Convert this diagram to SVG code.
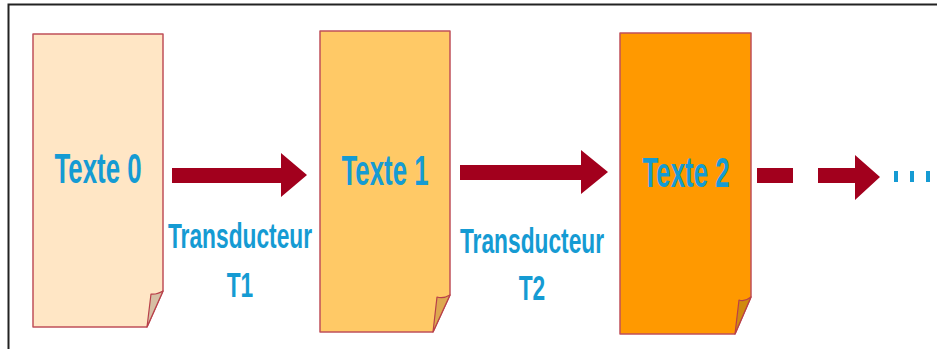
<svg xmlns="http://www.w3.org/2000/svg" width="937" height="349" viewBox="0 0 937 349">
<style>
.doc{stroke:#C0505A;stroke-width:1.5;stroke-linejoin:round}
.flap{stroke:#B8404A;stroke-width:1.2;stroke-linejoin:round}
.lbl{font-family:"Liberation Sans",Arial,sans-serif;font-weight:bold;fill:#159BD3;text-anchor:middle}
.arr{fill:#A2001D}
</style>
<rect width="937" height="349" fill="#fff"/>
<path d="M8.5 349 V4.5 H937" fill="none" stroke="#222" stroke-width="2"/>
<g id="doc0">
<path class="doc" d="M33 34 H163 V291 L147 327 H33 Z" fill="#FFE6C5"/>
<path class="flap" d="M147 327 L151 294 Q156 295 163 291 Z" fill="#D6BFA4"/>
<text class="lbl" transform="translate(98 183) scale(0.6 1)" font-size="43">Texte 0</text>
</g>
<g id="doc1">
<path class="doc" d="M320 31 H450 V295 L433 332 H320 Z" fill="#FFC966"/>
<path class="flap" d="M433 332 L437 297 Q443 299 450 295 Z" fill="#DDA850"/>
<text class="lbl" transform="translate(385 185) scale(0.6 1)" font-size="43">Texte 1</text>
</g>
<g id="doc2">
<path class="doc" d="M620 33 H751 V297 L735 334 H620 Z" fill="#FF9900"/>
<path class="flap" d="M735 334 L739 300 Q745 302 751 297 Z" fill="#D08A10"/>
<text class="lbl" transform="translate(686 187) scale(0.6 1)" font-size="43">Texte 2</text>
</g>
<g id="connectors">
<path class="arr" d="M172 168 H281 V153 L307 175 L281 197 V183 H172 Z"/>
<path class="arr" d="M460 165 H581 V150 L608 172 L581 194 V180 H460 Z"/>
<rect class="arr" x="757" y="168" width="36" height="15"/>
<path class="arr" d="M818 168 H855 V155 L880 177 L855 200 V183 H818 Z"/>
<rect x="894" y="171" width="4" height="11" fill="#159BD3"/>
<rect x="910" y="171" width="4" height="11" fill="#159BD3"/>
<rect x="926" y="171" width="4" height="11" fill="#159BD3"/>
</g>
<g id="labels">
<text class="lbl" transform="translate(240 248) scale(0.65 1)" font-size="35">Transducteur</text>
<text class="lbl" transform="translate(240 297) scale(0.65 1)" font-size="35">T1</text>
<text class="lbl" transform="translate(532 253) scale(0.65 1)" font-size="35">Transducteur</text>
<text class="lbl" transform="translate(532 300) scale(0.65 1)" font-size="35">T2</text>
</g>
</svg>
